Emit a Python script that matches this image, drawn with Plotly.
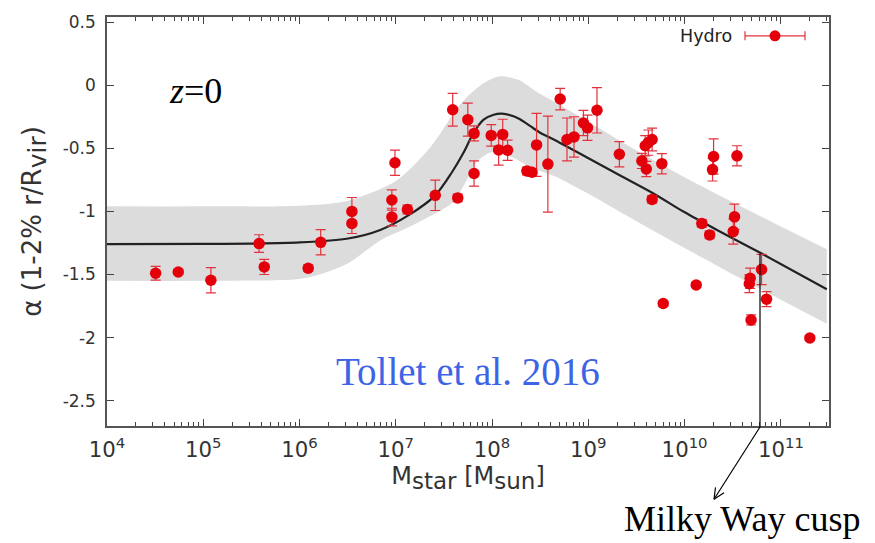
import plotly.graph_objects as go

# ---- data ----
mstar = [3.2e4, 5.5e4, 1.2e5, 3.8e5, 4.3e5, 1.23e6, 1.66e6, 3.5e6, 3.5e6, 9.1e6,
         9.1e6, 9.8e6, 1.32e7, 2.57e7, 3.9e7, 4.4e7, 5.6e7, 6.5e7, 6.5e7, 9.8e7,
         1.17e8, 1.29e8, 1.45e8, 2.3e8, 2.6e8, 2.9e8, 3.8e8, 5.1e8, 6.0e8, 7.1e8,
         8.9e8, 9.8e8, 1.23e9, 2.1e9, 3.6e9, 3.9e9, 4.0e9, 4.2e9, 4.6e9, 4.6e9,
         5.8e9, 6.0e9, 1.32e10, 1.51e10, 1.82e10, 1.95e10, 2.0e10, 3.2e10, 3.3e10, 3.5e10,
         4.7e10, 4.8e10, 4.9e10, 6.3e10, 7.1e10, 2.0e11]
alpha = [-1.49, -1.48, -1.545, -1.255, -1.44, -1.45, -1.245, -1.00, -1.095, -0.91,
         -1.045, -0.615, -0.985, -0.873, -0.195, -0.893, -0.273, -0.382, -0.70, -0.398,
         -0.513, -0.39, -0.516, -0.68, -0.69, -0.473, -0.625, -0.11, -0.43, -0.41,
         -0.30, -0.338, -0.199, -0.547, -0.60, -0.48, -0.664, -0.455, -0.43, -0.905,
         -0.622, -1.73, -1.583, -1.095, -1.186, -0.669, -0.565, -1.16, -1.043, -0.56,
         -1.573, -1.53, -1.86, -1.46, -1.695, -2.003]
alpha_err = [0.055, 0.02, 0.10, 0.07, 0.06, 0.025, 0.10, 0.11, 0.08, 0.08,
             0.07, 0.10, 0.035, 0.12, 0.13, 0.03, 0.13, 0.06, 0.10, 0.085,
             0.12, 0.12, 0.08, 0.03, 0.03, 0.25, 0.38, 0.085, 0.17, 0.16,
             0.10, 0.10, 0.18, 0.10, 0.06, 0.08, 0.06, 0.10, 0.09, 0.03,
             0.08, 0.02, 0.02, 0.03, 0.03, 0.09, 0.14, 0.10, 0.10, 0.08,
             0.07, 0.08, 0.04, 0.12, 0.06, 0.02]

fit_mstar = [1e4, 1e5, 3.2e5, 1e6, 3.2e6, 6.9e6, 1.36e7, 2.57e7, 3.83e7, 5.06e7,
             6.43e7, 8.17e7, 1.04e8, 1.27e8, 1.67e8, 1.95e8, 2.5e8, 3.16e8, 4.37e8, 9.7e8,
             2.14e9, 4.79e9, 9.8e9, 2.17e10, 6.17e10, 3.0e11]
fit_alpha = [-1.26, -1.258, -1.255, -1.246, -1.215, -1.147, -1.03, -0.873, -0.69, -0.534,
             -0.377, -0.273, -0.234, -0.226, -0.246, -0.27, -0.325, -0.377, -0.43, -0.573,
             -0.716, -0.86, -1.003, -1.147, -1.33, -1.617]

band_up_mstar = [1e4, 1e5, 1e6, 3.2e6, 1e7, 2.3e7, 4.7e7, 7.6e7, 1.2e8, 1.9e8,
                 3.0e8, 4.4e8, 1e9, 3.2e9, 1e10, 3.2e10, 1e11, 3.0e11]
band_up = [-0.96, -0.96, -0.955, -0.915, -0.76, -0.49, -0.15, 0.0, 0.07, 0.04,
           -0.06, -0.13, -0.29, -0.52, -0.73, -0.93, -1.12, -1.30]
band_lo_mstar = [1e4, 1e5, 1e6, 1.6e6, 3.2e6, 6.9e6, 1.4e7, 2.8e7, 3.9e7, 5.2e7,
                 6.9e7, 1.0e8, 1.6e8, 2.5e8, 4.4e8, 1e9, 3.2e9, 1e10, 3.2e10, 1e11, 3.0e11]
band_lo = [-1.55, -1.55, -1.535, -1.50, -1.41, -1.23, -1.12, -1.00, -0.93, -0.78,
           -0.61, -0.53, -0.57, -0.65, -0.72, -0.86, -1.08, -1.29, -1.50, -1.70, -1.89]

ytick_vals = [0.5, 0, -0.5, -1, -1.5, -2, -2.5]
ytick_text = ["0.5", "0", "-0.5", "-1", "-1.5", "-2", "-2.5"]

# ---- layout helpers (pixel -> paper) ----
L, R, T, B = 107, 46, 13, 117
W, H = 875, 543
PW, PH = W - L - R, H - T - B


def px(xp):
    return (xp - L) / PW


def py(yp):
    return (H - B - yp) / PH


RED = "#e3000b"
RED_BAR = "#e2323c"

fig = go.Figure()
fig.add_trace(go.Scatter(x=band_lo_mstar, y=band_lo, mode="lines",
                         line=dict(width=0, shape="spline", smoothing=0.8),
                         hoverinfo="skip", showlegend=False))
fig.add_trace(go.Scatter(x=band_up_mstar, y=band_up, mode="lines",
                         line=dict(width=0, shape="spline", smoothing=0.8),
                         fill="tonexty", fillcolor="#dcdcdc",
                         hoverinfo="skip", showlegend=False))
fig.add_trace(go.Scatter(x=fit_mstar, y=fit_alpha, mode="lines",
                         line=dict(color="#222222", width=2.2, shape="spline", smoothing=0.8),
                         showlegend=False))
fig.add_trace(go.Scatter(x=mstar, y=alpha, mode="markers", name="Hydro",
                         marker=dict(color=RED, size=11.5),
                         error_y=dict(type="data", array=alpha_err, color=RED_BAR,
                                      thickness=1.2, width=5),
                         showlegend=False))

axis_common = dict(ticks="inside", tickcolor="#444", tickwidth=1.2, showline=True,
                   linecolor="#555", linewidth=1.5, mirror="ticks", showgrid=False,
                   zeroline=False, tickfont=dict(family="DejaVu Sans", size=17, color="#333"))

fig.update_layout(
    width=W, height=H,
    margin=dict(l=L, r=R, t=T, b=B),
    paper_bgcolor="white", plot_bgcolor="white",
    font=dict(family="DejaVu Sans", color="#333"),
    xaxis=dict(type="log", range=[4, 11.5], dtick=1, exponentformat="power",
               showexponent="all", ticklen=7, ticklabelstandoff=5,
               minor=dict(dtick="D1", ticks="inside", ticklen=4, tickcolor="#444",
                          tickwidth=1, showgrid=False),
               title=dict(text="M<sub><span style='font-size:23px'>star</span></sub> "
                               "[M<sub><span style='font-size:23px'>sun</span></sub>]",
                          font=dict(family="DejaVu Sans", size=24, color="#333"),
                          standoff=6),
               **axis_common),
    yaxis=dict(range=[-2.7, 0.54], tickmode="array", tickvals=ytick_vals,
               ticktext=ytick_text, ticklen=7, ticklabelstandoff=6,
               title=dict(text="α (1-2% r/R<sub><span style='font-size:25px'>vir</span></sub>)",
                          font=dict(family="DejaVu Sans", size=26, color="#333"),
                          standoff=14),
               **axis_common),
)

serif = "Liberation Serif"
fig.add_annotation(x=px(195), y=py(88), xref="paper", yref="paper", showarrow=False,
                   text="<i>z</i>=0", font=dict(family=serif, size=36, color="black"),
                   xanchor="center", yanchor="middle")
fig.add_annotation(x=px(468), y=py(371), xref="paper", yref="paper", showarrow=False,
                   text="Tollet et al. 2016", font=dict(family=serif, size=39, color="#3d64e6"),
                   xanchor="center", yanchor="middle")
fig.add_annotation(x=px(742), y=py(520), xref="paper", yref="paper", showarrow=False,
                   text="Milky Way cusp", font=dict(family=serif, size=36, color="black"),
                   xanchor="center", yanchor="middle")
fig.add_annotation(x=px(734), y=py(32), xref="paper", yref="paper", showarrow=False,
                   text="Hydro", font=dict(family="DejaVu Sans", size=17.5, color="#222"),
                   xanchor="right", yanchor="middle")

shapes = []


def seg(x0, y0, x1, y1, color="black", width=1.2):
    shapes.append(dict(type="line", xref="paper", yref="paper",
                       x0=px(x0), y0=py(y0), x1=px(x1), y1=py(y1),
                       line=dict(color=color, width=width)))


# pointer to the Milky Way mass
seg(760, 252, 760, 427)
seg(760, 427, 714, 500)
seg(714, 500, 724, 493.5)
seg(714, 500, 715.5, 488)
# legend key
seg(745, 32, 805, 32, RED_BAR, 1.2)
seg(745, 27.5, 745, 36.5, RED_BAR, 1.2)
seg(805, 27.5, 805, 36.5, RED_BAR, 1.2)
shapes.append(dict(type="circle", xref="paper", yref="paper",
                   x0=px(769.5), y0=py(26.5), x1=px(780.5), y1=py(37.5),
                   fillcolor=RED, line=dict(color=RED, width=0)))
fig.update_layout(shapes=shapes)

fig.write_html("out.html")
